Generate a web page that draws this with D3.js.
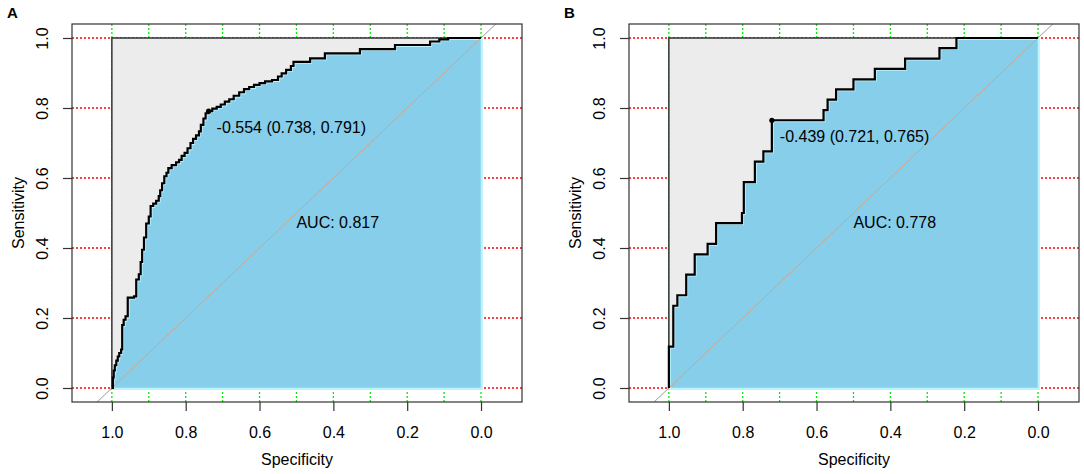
<!DOCTYPE html>
<html><head><meta charset="utf-8">
<script src="https://cdn.jsdelivr.net/npm/d3@7"></script>
<style>body{margin:0;background:#fff}svg{display:block;font-family:"Liberation Sans",Arial,sans-serif}</style>
</head><body><svg id="c" width="1084" height="474"></svg>
<script>
// ---- data (specificity, sensitivity turning points of the ROC step curves) ----
const rocA = [
 [1.000,0.000],[0.997,0.030],[0.995,0.050],[0.992,0.065],[0.988,0.078],[0.984,0.090],
 [0.980,0.100],[0.975,0.110],[0.972,0.180],[0.968,0.195],[0.963,0.205],[0.957,0.258],
 [0.940,0.262],[0.934,0.310],[0.927,0.325],[0.922,0.360],[0.918,0.395],[0.913,0.430],
 [0.907,0.470],[0.900,0.490],[0.895,0.520],[0.888,0.527],[0.880,0.535],[0.873,0.548],
 [0.869,0.565],[0.864,0.585],[0.858,0.605],[0.852,0.615],[0.847,0.628],[0.838,0.637],
 [0.826,0.645],[0.818,0.652],[0.811,0.663],[0.803,0.672],[0.795,0.685],[0.787,0.700],
 [0.780,0.712],[0.772,0.722],[0.764,0.733],[0.759,0.752],[0.752,0.770],[0.746,0.785],
 [0.738,0.791],[0.728,0.798],[0.716,0.803],[0.705,0.810],[0.694,0.818],[0.682,0.825],
 [0.670,0.835],[0.655,0.845],[0.642,0.854],[0.628,0.860],[0.615,0.866],[0.600,0.871],
 [0.585,0.876],[0.566,0.880],[0.550,0.890],[0.540,0.899],[0.528,0.909],[0.515,0.920],
 [0.508,0.932],[0.463,0.942],[0.423,0.956],[0.328,0.968],[0.233,0.980],[0.138,0.990],
 [0.113,0.996],[0.089,1.000],[0.000,1.000]
];
const rocB = [
 [1.000,0.000],[1.000,0.118],[0.988,0.235],[0.977,0.265],[0.953,0.324],[0.930,0.382],
 [0.895,0.412],[0.872,0.471],[0.802,0.500],[0.797,0.588],[0.767,0.647],[0.744,0.676],
 [0.721,0.765],[0.581,0.794],[0.570,0.824],[0.547,0.853],[0.500,0.882],[0.442,0.912],
 [0.360,0.941],[0.267,0.971],[0.221,1.000],[0.000,1.000]
];
const threshA = {value:-0.554, spec:0.738, sens:0.791};
const threshB = {value:-0.439, spec:0.721, sens:0.765};
const aucA = 0.817, aucB = 0.778;
const panelLabels = ["A","B"];
const xTicks = [1.0,0.8,0.6,0.4,0.2,0.0];
const yTicks = [0.0,0.2,0.4,0.6,0.8,1.0];
const xGrid = [0,0.1,0.2,0.3,0.4,0.5,0.6,0.7,0.8,0.9,1.0];
const yGrid = [0,0.2,0.4,0.6,0.8,1.0];

const svg = d3.select("#c");
const loc = d3.formatLocale({decimal:".",thousands:",",grouping:[3],currency:["",""],minus:"-"});
const fmt = loc.format(".1f");
const fmt3 = loc.format(".3f");

function panel(left, roc, th, auc, label){
  const right = left + 450, top = 24, bottom = 402;
  const x = d3.scaleLinear().domain([1.108,-0.111]).range([left,right]);
  const y = d3.scaleLinear().domain([-0.04,1.04]).range([bottom,top]);
  const g = svg.append("g");
  // grid
  g.selectAll(".gy").data(yGrid).join("line")
    .attr("x1",left).attr("x2",right).attr("y1",d=>y(d)).attr("y2",d=>y(d))
    .attr("stroke","#ff0000").attr("stroke-width",1.3).attr("stroke-dasharray","2,2");
  g.selectAll(".gx").data(xGrid).join("line")
    .attr("y1",top).attr("y2",bottom).attr("x1",d=>x(d)).attr("x2",d=>x(d))
    .attr("stroke","#00ee00").attr("stroke-width",1.3).attr("stroke-dasharray","2,2");
  // identity line (full, clipped to box)
  g.append("line").attr("x1",x(1.04)).attr("y1",y(-0.04)).attr("x2",x(-0.04)).attr("y2",y(1.04))
    .attr("stroke","#9a9a9a").attr("stroke-width",1);
  // max auc polygon
  g.append("rect").attr("x",x(1)).attr("y",y(1)).attr("width",x(0)-x(1)).attr("height",y(0)-y(1))
    .attr("fill","#ececec").attr("stroke","#333").attr("stroke-width",1.5);
  // auc polygon
  const area = d3.area().x(d=>x(d[0])).y0(y(0)).y1(d=>y(d[1])).curve(d3.curveStepAfter);
  g.append("path").datum(roc).attr("d",area).attr("fill","#87ceeb")
    .attr("stroke","#bff2ff").attr("stroke-width",2.2).attr("transform","translate(0.8,0.8)");
  // identity inside
  g.append("line").attr("x1",x(1)).attr("y1",y(0)).attr("x2",x(0)).attr("y2",y(1))
    .attr("stroke","#c9a68e").attr("stroke-width",1);
  // roc line
  const line = d3.line().x(d=>x(d[0])).y(d=>y(d[1])).curve(d3.curveStepAfter);
  g.append("path").datum(roc).attr("d",line).attr("fill","none")
    .attr("stroke","#000").attr("stroke-width",2.2);
  // threshold point + text
  g.append("circle").attr("cx",x(th.spec)).attr("cy",y(th.sens)).attr("r",2.6).attr("fill","#000");
  g.append("text").attr("x",x(th.spec)+8).attr("y",y(th.sens)+22).attr("font-size",16).attr("fill","#000")
    .text(`${fmt3(th.value)} (${fmt3(th.spec)}, ${fmt3(th.sens)})`);
  g.append("text").attr("x",x(0.5)).attr("y",y(0.5)+15).attr("font-size",16).attr("fill","#000")
    .text(`AUC: ${fmt3(auc)}`);
  // box
  g.append("rect").attr("x",left).attr("y",top).attr("width",right-left).attr("height",bottom-top)
    .attr("fill","none").attr("stroke","#333").attr("stroke-width",1.2);
  // axes
  const ax = g.append("g").attr("transform",`translate(0,${bottom})`)
    .call(d3.axisBottom(x).tickValues(xTicks).tickFormat(fmt).tickSize(9));
  ax.select(".domain").remove();
  ax.selectAll("line").attr("stroke","#333").attr("stroke-width",1.2);
  ax.selectAll("text").attr("y",36).attr("dy",0).attr("font-size",16).attr("fill","#000")
    .attr("font-family","'Liberation Sans',Arial,sans-serif");
  const ay = g.append("g").attr("transform",`translate(${left},0)`)
    .call(d3.axisLeft(y).tickValues(yTicks).tickFormat(fmt).tickSize(9));
  ay.select(".domain").remove();
  ay.selectAll("line").attr("stroke","#333").attr("stroke-width",1.2);
  ay.selectAll("text").attr("x",0).attr("y",-24).attr("dy",0).attr("transform","rotate(-90)")
    .attr("text-anchor","middle").attr("font-size",16).attr("fill","#000")
    .attr("font-family","'Liberation Sans',Arial,sans-serif");
  // titles
  g.append("text").attr("x",(left+right)/2).attr("y",465).attr("text-anchor","middle")
    .attr("font-size",16).text("Specificity");
  g.append("text").attr("transform",`translate(${left-48},${(top+bottom)/2}) rotate(-90)`)
    .attr("text-anchor","middle").attr("font-size",16).text("Sensitivity");
  g.append("text").attr("x",left-65).attr("y",18).attr("font-size",15).attr("font-weight","bold").text(label);
}
panel(72, rocA, threshA, aucA, panelLabels[0]);
panel(629, rocB, threshB, aucB, panelLabels[1]);
</script></body></html>
